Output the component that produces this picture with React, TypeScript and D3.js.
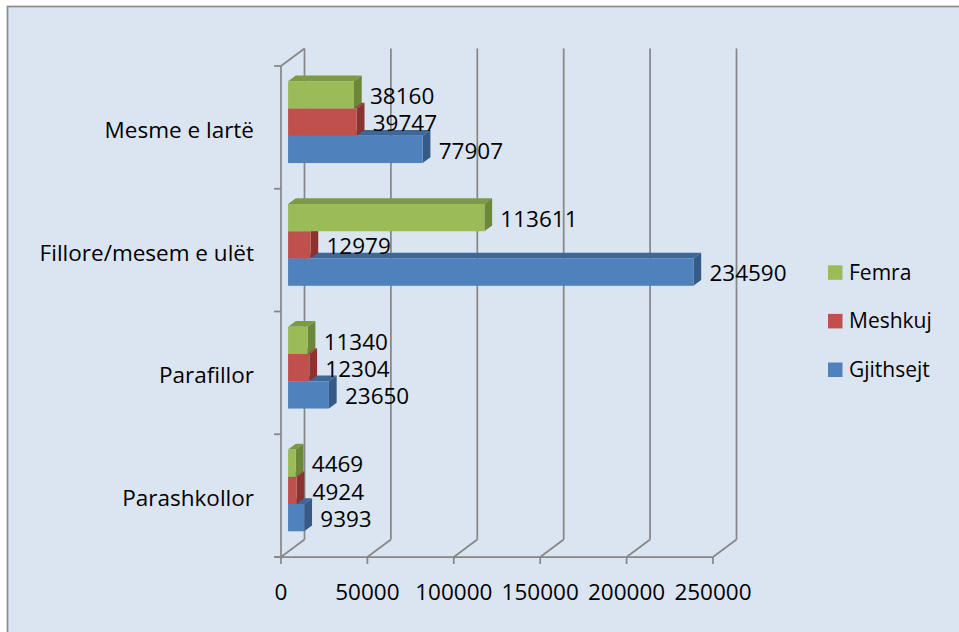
import React from "react";
import * as d3 from "d3";

const categories = ["Mesme e lartë", "Fillore/mesem e ulët", "Parafillor", "Parashkollor"];
const seriesNames = ["Femra", "Meshkuj", "Gjithsejt"];
const femra = [38160, 113611, 11340, 4469];
const meshkuj = [39747, 12979, 12304, 4924];
const gjithsejt = [77907, 234590, 23650, 9393];
const xTicks = [0, 50000, 100000, 150000, 200000, 250000];

const seriesValues = [femra, meshkuj, gjithsejt];
const colors = [
  { front: "#9bbb59", top: "#7c9a45", side: "#6c873a" },
  { front: "#c0504d", top: "#9c3d3a", side: "#8a3432" },
  { front: "#4f81bd", top: "#3e6797", side: "#375b88" },
];

const W = 959;
const H = 632;
const DX = 23.5;
const DY = -17.5;
const F0 = 0.3;
const F1 = 0.63;
const FONT = "'Open Sans', 'Noto Sans', sans-serif";

export default function App() {
  const x = d3.scaleLinear().domain([0, 250000]).range([281, 713]);
  const y = d3.scaleBand<string>().domain(categories).range([66, 557]).padding(0);
  const bw = y.bandwidth();
  const t = bw / 4.5;
  const fs = 22.5;
  const gridColor = "#878787";

  const bars: React.ReactNode[] = [];
  const labels: React.ReactNode[] = [];
  categories.forEach((cat, ci) => {
    const y0 = (y(cat) as number) + 0.75 * t;
    // draw bottom series first (Gjithsejt), then Meshkuj, then Femra
    for (let si = seriesNames.length - 1; si >= 0; si--) {
      const v = seriesValues[si][ci];
      const c = colors[si];
      const top = y0 + si * t + DY * F0;
      const bottom = top + t;
      const xl = x(0) + DX * F0;
      const xr = x(v) + DX * F0;
      const ddx = DX * (F1 - F0);
      const ddy = DY * (F1 - F0);
      bars.push(
        <g key={`b-${ci}-${si}`}>
          <polygon
            points={`${xl},${top} ${xr},${top} ${xr + ddx},${top + ddy} ${xl + ddx},${top + ddy}`}
            fill={c.top}
          />
          <polygon
            points={`${xr},${top} ${xr + ddx},${top + ddy} ${xr + ddx},${bottom + ddy} ${xr},${bottom}`}
            fill={c.side}
          />
          <rect x={xl} y={top} width={xr - xl} height={t} fill={c.front} />
        </g>
      );
      const cy = (top + bottom) / 2 + 1.3;
      labels.push(
        <text
          key={`l-${ci}-${si}`}
          x={xr + 16}
          y={cy + 0.357 * fs}
          fontSize={fs}
          fontFamily={FONT}
          fill="#000"
        >
          {v}
        </text>
      );
    }
  });

  const yTop = 66;
  const yBot = 557;

  return (
    <svg
      width={W}
      height={H}
      style={{ position: "absolute", left: 0, top: 0, display: "block" }}
    >
      <rect x={0} y={0} width={W} height={H} fill="#ffffff" />
      <rect x={7.5} y={6.5} width={W + 10} height={H + 10} fill="#dbe5f1" stroke="#8c8c8c" strokeWidth={1.75} />

      {/* back wall gridlines and floor diagonals */}
      {xTicks.map((tv) => (
        <g key={`g-${tv}`}>
          <line x1={x(tv) + DX} y1={yTop + DY} x2={x(tv) + DX} y2={yBot + DY} stroke={gridColor} strokeWidth={1.75} />
          <line x1={x(tv)} y1={yBot} x2={x(tv) + DX} y2={yBot + DY} stroke={gridColor} strokeWidth={1.75} />
          <line x1={x(tv)} y1={yBot} x2={x(tv)} y2={yBot + 7} stroke={gridColor} strokeWidth={1.75} />
        </g>
      ))}
      {/* left wall */}
      <line x1={x(0)} y1={yTop} x2={x(0)} y2={yBot} stroke={gridColor} strokeWidth={1.75} />
      <line x1={x(0)} y1={yTop} x2={x(0) + DX} y2={yTop + DY} stroke={gridColor} strokeWidth={1.75} />
      {/* floor front line */}
      <line x1={x(0) - 7} y1={yBot} x2={x(250000)} y2={yBot} stroke={gridColor} strokeWidth={1.75} />
      {/* category ticks */}
      {[...categories.map((c) => y(c) as number), yBot].map((ty, i) => (
        <line key={`ct-${i}`} x1={x(0) - 7} y1={ty} x2={x(0)} y2={ty} stroke={gridColor} strokeWidth={1.75} />
      ))}

      {bars}
      {labels}

      {/* category labels */}
      {categories.map((c) => (
        <text
          key={`cl-${c}`}
          x={254}
          y={(y(c) as number) + bw / 2 + 2.5 + 0.357 * fs}
          textAnchor="end"
          fontSize={fs}
          fontFamily={FONT}
          fill="#000"
        >
          {c}
        </text>
      ))}

      {/* x tick labels */}
      {xTicks.map((tv) => (
        <text
          key={`xt-${tv}`}
          x={x(tv)}
          y={591.5 + 0.357 * fs}
          textAnchor="middle"
          fontSize={fs}
          fontFamily={FONT}
          fill="#000"
        >
          {tv}
        </text>
      ))}

      {/* legend */}
      {seriesNames.map((s, i) => {
        const cy = 272.3 + i * 48.6;
        return (
          <g key={`lg-${s}`}>
            <rect x={828} y={cy - 7} width={14.5} height={14.5} fill={colors[i].front} />
            <text x={849} y={cy + 0.357 * 21} fontSize={21} fontFamily={FONT} fill="#000">
              {s}
            </text>
          </g>
        );
      })}
    </svg>
  );
}
